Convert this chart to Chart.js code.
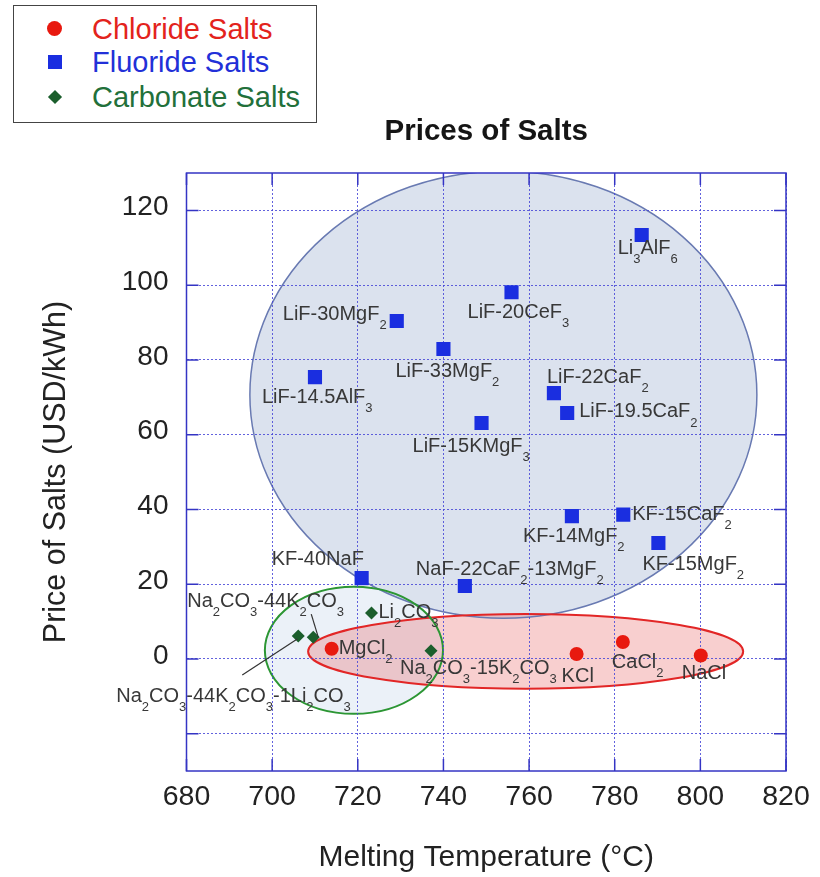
<!DOCTYPE html>
<html>
<head>
<meta charset="utf-8">
<script src="https://cdn.jsdelivr.net/npm/chart.js@4.4.1/dist/chart.umd.min.js"></script>
<style>
  body { margin: 0; background: #fff; }
  #wrap { position: relative; width: 820px; height: 877px; }
  #legend {
    position: absolute; left: 13px; top: 5px; width: 302px; height: 116px;
    border: 1.5px solid #444; background: #fff;
    font-family: "Liberation Sans", Arial, sans-serif; font-size: 29px;
  }
  .item { position: absolute; left: 0; width: 100%; height: 34px; }
  .item .txt { position: absolute; left: 78px; top: 0; line-height: 34px; white-space: nowrap; }
  .mk { position: absolute; }
</style>
</head>
<body>
<div id="wrap">
  <canvas id="chart" width="820" height="877"></canvas>
  <div id="legend"></div>
</div>
<script>
const FONT = '"Liberation Sans", Arial, sans-serif';

// series
const seriesNames = ['Chloride Salts', 'Fluoride Salts', 'Carbonate Salts'];
const seriesColors = ['#e8190f', '#1a2ee0', '#1b5e2c'];
const legendTextColors = ['#e3231c', '#2230d8', '#22703a'];

// chloride salts
const chlorideNames = ['MgCl_2', 'KCl', 'CaCl_2', 'NaCl'];
const chlorideTemp = [713.9, 771.1, 781.9, 800.1];
const chloridePrice = [2.7, 1.3, 4.5, 0.9];

// fluoride salts
const fluorideNames = ['Li_3AlF_6', 'LiF-20CeF_3', 'LiF-30MgF_2', 'LiF-33MgF_2', 'LiF-14.5AlF_3',
  'LiF-22CaF_2', 'LiF-19.5CaF_2', 'LiF-15KMgF_3', 'KF-14MgF_2', 'KF-15CaF_2', 'KF-15MgF_2',
  'KF-40NaF', 'NaF-22CaF_2-13MgF_2'];
const fluorideTemp = [786.3, 755.9, 729.1, 740.0, 710.0, 765.8, 768.9, 748.9, 770.0, 782.0, 790.2, 720.9, 745.0];
const fluoridePrice = [113.4, 98.1, 90.4, 82.9, 75.4, 71.1, 65.8, 63.1, 38.2, 38.6, 31.0, 21.6, 19.5];

// carbonate salts
const carbonateNames = ['Na_2CO_3-44K_2CO_3-1Li_2CO_3', 'Na_2CO_3-44K_2CO_3', 'Li_2CO_3', 'Na_2CO_3-15K_2CO_3'];
const carbonateTemp = [706.1, 709.6, 723.2, 737.1];
const carbonatePrice = [6.1, 5.8, 12.3, 2.2];

// axes
const xMin = 680, xMax = 820, xStep = 20;
const yMin = -30, yMax = 130;
const yTickValues = [-20, 0, 20, 40, 60, 80, 100, 120];
const yTickLabels = ['', '0', '20', '40', '60', '80', '100', '120'];

// group ellipses in data units: [centerTemp, centerPrice, radiusTemp, radiusPrice]
const fluorideGroup = [754.0, 70.7, 59.2, 59.8];
const chlorideGroup = [759.2, 2.0, 50.8, 10.0];
const carbonateGroup = [719.1, 2.3, 20.8, 17.0];

// label offsets from each point, in pixels [dx, dy]
const labelOffsets = [
  [[7, 0], [-15, 22], [-11, 20], [-19, 18]],
  [[-24, 13], [-44, 20], [-114, -7], [-48, 22], [-53, 20], [-7, -16], [12, -1], [-69, 23],
   [-49, 20], [9, 0], [-16, 21], [-90, -19], [-49, -17]],
  [[-182, 60], [-126, -36], [7, 0], [-31, 18]]
];
// leader lines for carbonate labels: [pointIndex, x1, y1, x2, y2] relative to the point
const leaderLines = [[0, -56, 39, -1, 3], [1, -2, -23, 5, 0]];

// legend
const legend = document.getElementById('legend');
const itemTops = [6, 39, 74];
seriesNames.forEach((name, i) => {
  const it = document.createElement('div');
  it.className = 'item';
  it.style.top = itemTops[i] + 'px';
  const mk = document.createElement('div');
  mk.className = 'mk';
  if (i === 0) {
    Object.assign(mk.style, { left: '33px', top: '9px', width: '15px', height: '15px', borderRadius: '50%', background: seriesColors[0] });
  } else if (i === 1) {
    Object.assign(mk.style, { left: '34px', top: '10px', width: '14px', height: '14px', background: seriesColors[1] });
  } else {
    Object.assign(mk.style, { left: '36px', top: '12px', width: '10px', height: '10px', background: seriesColors[2], transform: 'rotate(45deg)' });
  }
  const t = document.createElement('span');
  t.className = 'txt';
  t.style.color = legendTextColors[i];
  t.textContent = name;
  it.appendChild(mk);
  it.appendChild(t);
  legend.appendChild(it);
});

function toPoints(xs, ys) {
  return xs.map((x, i) => ({ x: x, y: ys[i] }));
}

// text with subscripts, "_2" marks a subscript
function drawRich(ctx, text, x, y) {
  const parts = text.split(/_(\d+)/);
  let cx = x;
  ctx.textAlign = 'left';
  ctx.textBaseline = 'middle';
  parts.forEach((p, i) => {
    if (!p) return;
    const sub = i % 2 === 1;
    ctx.font = (sub ? '13px ' : '20px ') + FONT;
    ctx.fillText(p, cx, sub ? y + 11 : y);
    cx += ctx.measureText(p).width;
  });
}

const ellipsePlugin = {
  id: 'groups',
  beforeDraw(chart) {
    const { ctx, chartArea: a, scales: { x, y } } = chart;
    const groups = [
      { g: fluorideGroup, fill: 'rgba(170,187,215,0.42)', stroke: 'rgb(105,122,178)', w: 1.5 },
      { g: carbonateGroup, fill: 'rgba(190,208,232,0.3)', stroke: 'rgb(44,150,52)', w: 2 },
      { g: chlorideGroup, fill: 'rgba(232,105,105,0.32)', stroke: 'rgb(226,38,38)', w: 2 }
    ];
    const path = g => {
      ctx.beginPath();
      const cx = x.getPixelForValue(g[0]), cy = y.getPixelForValue(g[1]);
      const rx = Math.abs(x.getPixelForValue(g[0] + g[2]) - cx);
      const ry = Math.abs(y.getPixelForValue(g[1] + g[3]) - cy);
      ctx.ellipse(cx, cy, rx, ry, 0, 0, Math.PI * 2);
    };
    ctx.save();
    ctx.beginPath();
    ctx.rect(a.left, a.top, a.right - a.left, a.bottom - a.top);
    ctx.clip();
    groups.forEach(o => { path(o.g); ctx.fillStyle = o.fill; ctx.fill(); });
    [groups[0], groups[2], groups[1]].forEach(o => {
      path(o.g); ctx.strokeStyle = o.stroke; ctx.lineWidth = o.w; ctx.stroke();
    });
    ctx.restore();
  }
};

const labelPlugin = {
  id: 'pointLabels',
  afterDatasetsDraw(chart) {
    const ctx = chart.ctx;
    const names = [chlorideNames, fluorideNames, carbonateNames];
    ctx.save();
    ctx.fillStyle = '#383838';
    names.forEach((list, di) => {
      const meta = chart.getDatasetMeta(di);
      list.forEach((txt, i) => {
        const el = meta.data[i];
        const off = labelOffsets[di][i];
        drawRich(ctx, txt, el.x + off[0], el.y + off[1]);
      });
    });
    const cmeta = chart.getDatasetMeta(2);
    ctx.strokeStyle = '#333';
    ctx.lineWidth = 1.2;
    leaderLines.forEach(l => {
      const el = cmeta.data[l[0]];
      ctx.beginPath();
      ctx.moveTo(el.x + l[1], el.y + l[2]);
      ctx.lineTo(el.x + l[3], el.y + l[4]);
      ctx.stroke();
    });
    ctx.restore();
  }
};

const framePlugin = {
  id: 'frame',
  afterDraw(chart) {
    const { ctx, chartArea: a, scales: { x, y } } = chart;
    ctx.save();
    ctx.strokeStyle = 'rgb(52,52,196)';
    ctx.lineWidth = 1.5;
    ctx.strokeRect(a.left, a.top, a.right - a.left, a.bottom - a.top);
    ctx.beginPath();
    const tl = 12;
    x.ticks.forEach(t => {
      const px = x.getPixelForValue(t.value);
      ctx.moveTo(px, a.top); ctx.lineTo(px, a.top + tl);
      ctx.moveTo(px, a.bottom); ctx.lineTo(px, a.bottom - tl);
    });
    y.ticks.forEach(t => {
      const py = y.getPixelForValue(t.value);
      ctx.moveTo(a.left, py); ctx.lineTo(a.left + tl, py);
      ctx.moveTo(a.right, py); ctx.lineTo(a.right - tl, py);
    });
    ctx.stroke();
    // chart title
    ctx.fillStyle = '#151515';
    ctx.font = 'bold 29.5px ' + FONT;
    ctx.textAlign = 'center';
    ctx.textBaseline = 'middle';
    ctx.fillText('Prices of Salts', (a.left + a.right) / 2, 132);
    ctx.restore();
  }
};

const gridColor = 'rgba(70,70,215,0.85)';

new Chart(document.getElementById('chart'), {
  type: 'scatter',
  data: {
    datasets: [
      { label: seriesNames[0], data: toPoints(chlorideTemp, chloridePrice), pointStyle: 'circle', pointRadius: 7,
        backgroundColor: seriesColors[0], borderColor: seriesColors[0], borderWidth: 0 },
      { label: seriesNames[1], data: toPoints(fluorideTemp, fluoridePrice), pointStyle: 'rect', pointRadius: 10,
        backgroundColor: seriesColors[1], borderColor: seriesColors[1], borderWidth: 0 },
      { label: seriesNames[2], data: toPoints(carbonateTemp, carbonatePrice), pointStyle: 'rectRot', pointRadius: 6.5,
        backgroundColor: seriesColors[2], borderColor: seriesColors[2], borderWidth: 0 }
    ]
  },
  options: {
    responsive: false,
    animation: false,
    events: [],
    layout: { padding: { left: 0, right: 34, top: 173, bottom: 0 } },
    plugins: { legend: { display: false }, tooltip: { enabled: false } },
    scales: {
      x: {
        type: 'linear', min: xMin, max: xMax,
        ticks: { stepSize: xStep, color: '#222', padding: 9, font: { family: FONT, size: 28.5 } },
        grid: { color: gridColor, lineWidth: 1, drawTicks: false },
        border: { display: false, dash: [2, 2] },
        title: { display: true, text: 'Melting Temperature (°C)', color: '#222',
          font: { family: FONT, size: 30 }, padding: { top: 0, bottom: 1 } },
        afterFit(s) { s.height = 106; }
      },
      y: {
        type: 'linear', min: yMin, max: yMax,
        afterBuildTicks(s) { s.ticks = yTickValues.map(v => ({ value: v })); },
        ticks: { color: '#222', padding: 18, labelOffset: -3, font: { family: FONT, size: 28 },
          callback: (v, i) => yTickLabels[i] },
        grid: { color: gridColor, lineWidth: 1, drawTicks: false },
        border: { display: false, dash: [2, 2] },
        title: { display: true, text: 'Price of Salts (USD/kWh)', color: '#222',
          font: { family: FONT, size: 30.5 }, padding: { top: 38, bottom: 0 } },
        afterFit(s) { s.width = 186.5; }
      }
    }
  },
  plugins: [ellipsePlugin, labelPlugin, framePlugin]
});
</script>
</body>
</html>
